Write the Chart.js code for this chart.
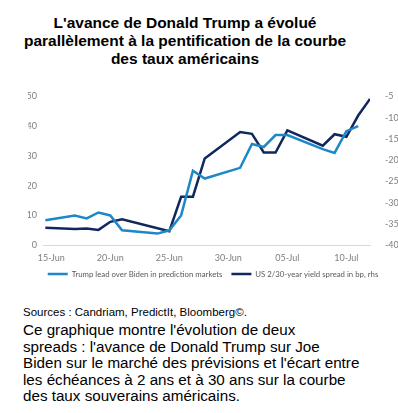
<!DOCTYPE html>
<html>
<head>
<meta charset="utf-8">
<script src="https://cdn.jsdelivr.net/npm/chart.js@4.4.1/dist/chart.umd.min.js"></script>
<style>
  body { margin: 0; background: #fff; width: 398px; height: 413px; position: relative; overflow: hidden; }
  #title { position: absolute; top: 14px; left: 0; width: 370px; text-align: center;
    font: bold 15.5px "Liberation Sans", Arial, sans-serif; line-height: 17.8px; color: #000; }
  #wrap { position: absolute; top: 76px; left: 0; width: 398px; height: 212px; }
  #sources { position: absolute; top: 306px; left: 23px; font: 11.5px "Liberation Sans", Arial, sans-serif; color: #000; }
  #note { position: absolute; top: 322px; left: 23px; font: 15.2px "Liberation Sans", Arial, sans-serif; line-height: 16.5px; color: #000; }
</style>
</head>
<body>
<div id="title">L'avance de Donald Trump a évolué<br>parallèlement à la pentification de la courbe<br>des taux américains</div>
<div id="wrap"><canvas id="plot"></canvas></div>
<div id="sources">Sources : Candriam, PredictIt, Bloomberg©.</div>
<div id="note">Ce graphique montre l'évolution de deux<br>spreads : l'avance de Donald Trump sur Joe<br>Biden sur le marché des prévisions et l'écart entre<br>les échéances à 2 ans et à 30 ans sur la courbe<br>des taux souverains américains.</div>
<script>
// days counted from 15-Jun
let dayOffsets = [-0.5, 2, 3, 4, 5, 6, 9, 10, 11, 12, 13, 16, 17, 18, 19, 20, 23, 24, 25, 26, 27];
let trumpLead = [8.4, 10, 9, 11, 10, 5, 3.9, 5, 10, 25, 22.4, 26, 34, 33, 37, 37, 32.3, 31, 38.3, 40, null];
let yieldSpread = [-35.9, -36.2, -36.1, -36.4, -34.5, -33.9, null, -36.7, -28.6, -28.6, -19.6, -13.4, -13.8, -18.2, -18.2, -13.0, -16.6, -13.9, -14.5, -9.5, -5.6];
let tickDays = [0, 5, 10, 15, 20, 25];
let tickLabels = ['15-Jun', '20-Jun', '25-Jun', '30-Jun', '05-Jul', '10-Jul'];
let seriesNames = ['Trump lead over Biden in prediction markets', 'US 2/30-year yield spread in bp, rhs'];

const tickFont = { family: 'Lato', size: 9 };
const tickColor = '#7f7f7f';

let ctx = document.getElementById('plot').getContext('2d');
window.myChart = new Chart(ctx, {
    type: 'line',
    data: {
        datasets: [{
            label: seriesNames[0],
            data: dayOffsets.map((x, idx) => ({ x: x, y: trumpLead[idx] })),
            borderColor: '#1e87c8',
            backgroundColor: '#1e87c8',
            borderWidth: 2.5,
            pointRadius: 0,
            spanGaps: true,
            yAxisID: 'y'
        },
        {
            label: seriesNames[1],
            data: dayOffsets.map((x, idx) => ({ x: x, y: yieldSpread[idx] })),
            borderColor: '#10285c',
            backgroundColor: '#10285c',
            borderWidth: 2.5,
            pointRadius: 0,
            spanGaps: true,
            yAxisID: 'y2'
        }]
    },
    options: {
        responsive: true,
        maintainAspectRatio: false,
        animation: false,
        layout: { padding: { top: 11, left: 28, right: 0, bottom: 0 } },
        plugins: {
            tooltip: { enabled: false },
            legend: {
                position: 'bottom',
                labels: {
                    usePointStyle: true,
                    pointStyle: 'line',
                    pointStyleWidth: 20,
                    boxHeight: 8,
                    padding: 9,
                    color: '#595959',
                    font: { family: 'Lato', size: 7.8 }
                }
            }
        },
        scales: {
            x: {
                type: 'linear',
                min: -0.7,
                max: 27,
                grid: { display: false, drawTicks: false },
                border: { display: true, color: '#d9d9d9', width: 1 },
                afterBuildTicks: s => { s.ticks = tickDays.map(v => ({ value: v })); },
                afterFit: s => { s.height = 16; },
                ticks: {
                    color: tickColor,
                    font: tickFont,
                    maxRotation: 0,
                    padding: 7,
                    callback: v => tickLabels[tickDays.indexOf(v)]
                }
            },
            y: {
                position: 'left',
                min: 0,
                max: 50,
                grid: { display: false, drawTicks: false },
                border: { display: false },
                afterFit: s => { s.width = 15; },
                ticks: { stepSize: 10, color: tickColor, font: tickFont, padding: 6 }
            },
            y2: {
                position: 'right',
                min: -40,
                max: -5,
                grid: { display: false, drawTicks: false },
                border: { display: false },
                afterFit: s => { s.width = 28; },
                ticks: { stepSize: 5, color: tickColor, font: tickFont, padding: 15 }
            }
        }
    }
});
</script>
</body>
</html>
